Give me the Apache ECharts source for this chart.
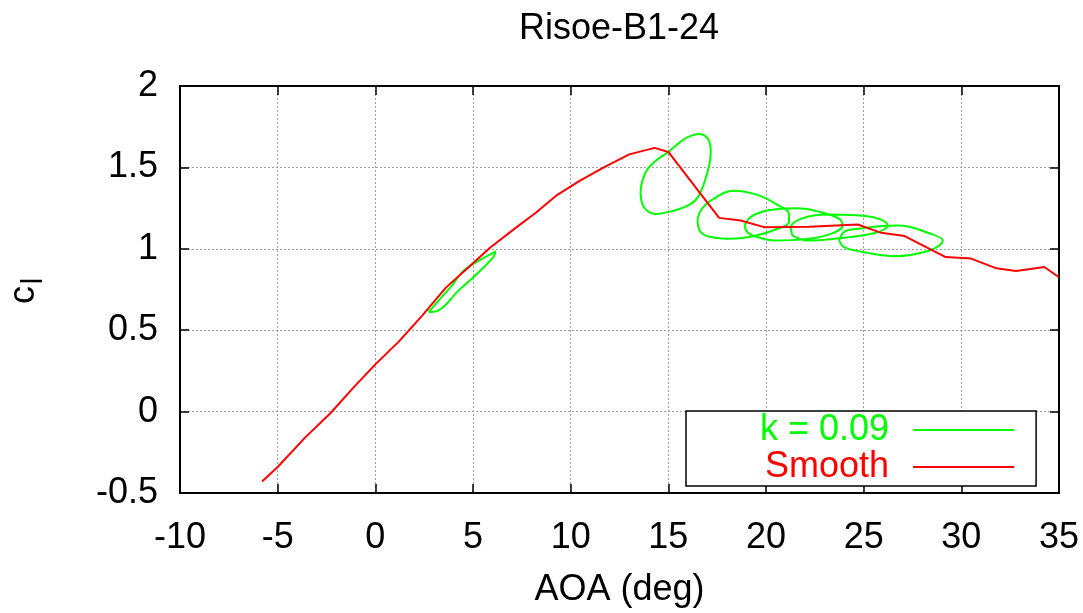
<!DOCTYPE html>
<html>
<head>
<meta charset="utf-8">
<script src="https://cdn.jsdelivr.net/npm/echarts@6/dist/echarts.min.js"></script>
<style>
html,body{margin:0;padding:0;background:#fff;}
#c{width:1083px;height:613px;}
</style>
</head>
<body>
<div id="c"></div>
<script>
// ---- data ----
var titleText = 'Risoe-B1-24';
var xTicks = [-10, -5, 0, 5, 10, 15, 20, 25, 30, 35];
var yTicks = [-0.5, 0, 0.5, 1, 1.5, 2];

var smoothX = [-5.8, -5.0, -3.6, -2.3, -1.1, 0.0, 1.2, 2.4, 3.6, 4.8, 5.9, 7.2, 8.2, 9.3, 10.5, 11.7, 13.0, 14.3, 15.0, 17.6, 18.7, 19.9, 22.2, 24.7, 25.9, 27.1, 29.2, 30.5, 31.8, 32.8, 34.25, 35.0];
var smoothY = [-0.43, -0.34, -0.16, -0.01, 0.15, 0.29, 0.43, 0.59, 0.76, 0.89, 1.01, 1.13, 1.22, 1.33, 1.42, 1.50, 1.58, 1.62, 1.595, 1.19, 1.174, 1.133, 1.135, 1.149, 1.098, 1.078, 0.949, 0.94, 0.88, 0.863, 0.888, 0.825];

var loop1X = [2.73, 3.33, 3.95, 4.53, 5.28, 6.15, 6.05, 5.21, 4.25, 3.24, 2.73];
var loop1Y = [0.612, 0.694, 0.779, 0.867, 0.926, 0.983, 0.951, 0.847, 0.743, 0.622, 0.612];

var loop2X = [15.03, 15.5, 15.97, 16.57, 17.08, 17.17, 17.0, 16.57, 16.15, 15.3, 14.35, 13.75, 13.58, 13.84, 14.35, 15.03];
var loop2Y = [1.596, 1.645, 1.684, 1.705, 1.664, 1.592, 1.47, 1.327, 1.276, 1.235, 1.214, 1.255, 1.347, 1.47, 1.54, 1.596];

var loop3X = [16.49, 16.66, 17.17, 18.37, 19.56, 20.59, 21.18, 21.18, 20.59, 19.39, 18.2, 17.17, 16.66, 16.49];
var loop3Y = [1.173, 1.235, 1.296, 1.357, 1.331, 1.27, 1.214, 1.164, 1.123, 1.078, 1.061, 1.072, 1.102, 1.173];

var loop4X = [18.91, 19.22, 20.08, 21.61, 22.81, 23.75, 23.92, 23.32, 22.13, 20.42, 19.56, 19.05, 18.91];
var loop4Y = [1.143, 1.196, 1.235, 1.249, 1.225, 1.184, 1.143, 1.092, 1.061, 1.051, 1.072, 1.102, 1.143];

var loop5X = [21.36, 21.27, 21.78, 23.32, 25.2, 26.23, 25.71, 23.83, 22.13, 21.36];
var loop5Y = [1.081, 1.123, 1.184, 1.21, 1.2, 1.143, 1.102, 1.066, 1.051, 1.081];

var loop6X = [23.75, 24.0, 24.69, 26.74, 28.45, 29.05, 28.36, 26.57, 25.2, 24.0, 23.75];
var loop6Y = [1.051, 1.104, 1.123, 1.143, 1.092, 1.051, 0.99, 0.955, 0.975, 1.01, 1.051];

// ---- build ----
function zip(xs, ys) { return xs.map(function (x, i) { return [x, ys[i]]; }); }
var greenLoops = [[loop1X, loop1Y], [loop2X, loop2Y], [loop3X, loop3Y], [loop4X, loop4Y], [loop5X, loop5Y], [loop6X, loop6Y]];
var greenData = [];
greenLoops.forEach(function (l, i) {
  if (i > 0) greenData.push([null, null]);
  greenData = greenData.concat(zip(l[0], l[1]));
});
var redData = zip(smoothX, smoothY);

var FONT = 'Liberation Sans, Arial, Helvetica, sans-serif';
var GREEN = '#00ff00', RED = '#ff0000';
var chart = echarts.init(document.getElementById('c'), null, { renderer: 'canvas' });

var gridLine = { show: true, lineStyle: { color: '#a0a0a0', type: [2, 2], width: 1 } };
var tick = { show: true, inside: true, length: 9, lineStyle: { color: '#000', width: 1.5 } };

chart.setOption({
  animation: false,
  backgroundColor: '#fff',
  title: {
    text: titleText, left: 619, top: 11, textAlign: 'center', padding: 0,
    textStyle: { fontFamily: FONT, fontSize: 36, fontWeight: 'normal', color: '#000' }
  },
  grid: { left: 180, top: 86, width: 879, height: 410, show: true, borderColor: '#000', borderWidth: 2, backgroundColor: 'transparent' },
  xAxis: [{
    type: 'value', min: xTicks[0], max: xTicks[xTicks.length - 1], interval: 5, position: 'bottom',
    name: 'AOA (deg)', nameLocation: 'middle', nameGap: 79,
    nameTextStyle: { fontFamily: FONT, fontSize: 36, color: '#000' },
    axisLine: { show: true, onZero: false, lineStyle: { color: '#000', width: 2 } },
    axisTick: tick,
    axisLabel: { fontFamily: FONT, fontSize: 36, color: '#000', margin: 27 },
    splitLine: gridLine
  }, {
    type: 'value', min: xTicks[0], max: xTicks[xTicks.length - 1], interval: 5, position: 'top',
    axisLine: { show: true, onZero: false, lineStyle: { color: '#000', width: 2 } },
    axisTick: tick, axisLabel: { show: false }, splitLine: { show: false }
  }],
  yAxis: [{
    type: 'value', min: yTicks[0], max: yTicks[yTicks.length - 1], interval: 0.5, position: 'left',
    axisLine: { show: true, onZero: false, lineStyle: { color: '#000', width: 2 } },
    axisTick: tick,
    axisLabel: { fontFamily: FONT, fontSize: 36, color: '#000', margin: 22 },
    splitLine: gridLine
  }, {
    type: 'value', min: yTicks[0], max: yTicks[yTicks.length - 1], interval: 0.5, position: 'right',
    axisLine: { show: true, onZero: false, lineStyle: { color: '#000', width: 2 } },
    axisTick: tick, axisLabel: { show: false }, splitLine: { show: false }
  }],
  legend: {
    orient: 'vertical', left: 686, top: 411, align: 'right',
    padding: [1, 22, 1, 74], itemGap: 1, itemWidth: 101, itemHeight: 2,
    backgroundColor: '#fff', borderColor: '#000', borderWidth: 1.5, borderRadius: 0,
    data: [
      { name: 'k = 0.09', icon: 'rect', itemStyle: { color: GREEN }, textStyle: { color: GREEN } },
      { name: 'Smooth', icon: 'rect', itemStyle: { color: RED }, textStyle: { color: RED } }
    ],
    textStyle: { fontFamily: FONT, fontSize: 36, align: 'right', padding: [0, 19, 0, 0] }
  },
  graphic: [
    { type: 'text', x: 24, y: 295, rotation: Math.PI / 2,
      style: { text: 'c', font: '36px ' + FONT, fill: '#000', align: 'center', verticalAlign: 'middle' } },
    { type: 'text', x: 34, y: 281, rotation: Math.PI / 2,
      style: { text: 'l', font: '29px ' + FONT, fill: '#000', align: 'center', verticalAlign: 'middle' } }
  ],
  series: [{
    name: 'k = 0.09', type: 'line', xAxisIndex: 0, yAxisIndex: 0,
    data: greenData, showSymbol: false, symbol: 'none', smooth: 0.4, connectNulls: false,
    lineStyle: { color: GREEN, width: 2 }, itemStyle: { color: GREEN },
    clip: true
  }, {
    name: 'Smooth', type: 'line', xAxisIndex: 0, yAxisIndex: 0,
    data: redData, showSymbol: false, symbol: 'none',
    lineStyle: { color: RED, width: 2 }, itemStyle: { color: RED },
    clip: true
  }]
});
</script>
</body>
</html>
